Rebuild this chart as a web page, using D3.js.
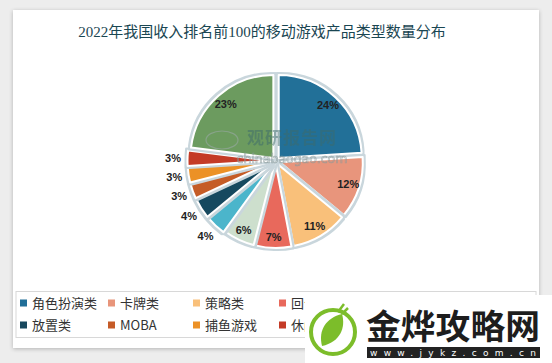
<!DOCTYPE html>
<html><head><meta charset="utf-8">
<script src="https://cdn.jsdelivr.net/npm/d3@7"></script>
<style>
html,body{margin:0;padding:0;background:#ededed;}
svg{display:block;}
</style></head>
<body>
<svg id="c" width="552" height="363"></svg>
<script>
const title = "2022年我国收入排名前100的移动游戏产品类型数量分布";
const categories = ["角色扮演类","卡牌类","策略类","回合制","模拟经营","动作类","放置类","MOBA","捕鱼游戏","休闲类","其他"];
const values = [24,12,11,7,6,4,4,3,3,3,23];
const colors = ["#216f98","#e8957b","#f9c07a","#e8695c","#cddfcd","#4cb5cb","#17485e","#c55b27","#ec9126","#c43b27","#6c9b5f"];
const insideLabel = [true,true,true,true,true,false,false,false,false,false,true];

const svg = d3.select("#c");
const defs = svg.append("defs");
const sh = defs.append("filter").attr("id","sh").attr("x","-5%").attr("y","-5%").attr("width","110%").attr("height","110%");
sh.append("feGaussianBlur").attr("in","SourceAlpha").attr("stdDeviation",2);
sh.append("feOffset").attr("dx",0).attr("dy",1).attr("result","b");
sh.append("feComponentTransfer").append("feFuncA").attr("type","linear").attr("slope",0.25);
const m = sh.append("feMerge"); m.append("feMergeNode"); m.append("feMergeNode").attr("in","SourceGraphic");

const ps = defs.append("filter").attr("id","ps").attr("x","-20%").attr("y","-20%").attr("width","140%").attr("height","140%");
ps.append("feMorphology").attr("in","SourceAlpha").attr("operator","dilate").attr("radius",1.5).attr("result","d");
ps.append("feFlood").attr("flood-color","#c9d6dc");
ps.append("feComposite").attr("in2","d").attr("operator","in");
const m2 = ps.append("feMerge"); m2.append("feMergeNode"); m2.append("feMergeNode").attr("in","SourceGraphic");

defs.append("clipPath").attr("id","lc").append("rect").attr("x",0).attr("y",280).attr("width",305).attr("height",70);

// card
svg.append("rect").attr("x",13).attr("y",10).attr("width",526).attr("height",338).attr("fill","#fff").attr("filter","url(#sh)");

svg.append("text").attr("x",262).attr("y",37).attr("text-anchor","middle")
  .attr("font-family","'Liberation Serif','Noto Sans CJK SC',serif").attr("font-size",15)
  .attr("fill","#1a4652").text(title);

const cx = 276, cy = 161, R = 83, off = 4;
const pie = d3.pie().sort(null).startAngle(0).endAngle(2*Math.PI)(values);
const arc = d3.arc().innerRadius(0).outerRadius(R);
const g = svg.append("g").attr("transform",`translate(${cx},${cy})`);
const mid = d => (d.startAngle + d.endAngle)/2;
g.selectAll("path").data(pie).join("path")
  .attr("d",arc)
  .attr("transform",(d,i)=>{const o = insideLabel[i]?off:off+1.5; return `translate(${o*Math.sin(mid(d))},${-o*Math.cos(mid(d))})`;})
  .attr("fill",(d,i)=>colors[i])
  .attr("stroke","#fff").attr("stroke-width",2).attr("stroke-linejoin","round")
  .attr("filter","url(#ps)");

g.selectAll("text.l").data(pie).join("text").attr("class","l")
  .attr("x",(d,i)=>(insideLabel[i]?76:103)*Math.sin(mid(d)))
  .attr("y",(d,i)=>-(insideLabel[i]?76:103)*Math.cos(mid(d)))
  .attr("dy","0.35em").attr("text-anchor","middle")
  .attr("font-family","'Liberation Sans',Arial,sans-serif").attr("font-size",11).attr("font-weight",600)
  .attr("fill","#222").text((d,i)=>values[i]+"%");

// center watermark
svg.append("text").attr("x",292).attr("y",144).attr("text-anchor","middle")
  .attr("font-family","'Noto Sans CJK SC',sans-serif").attr("font-size",17).attr("font-weight",700)
  .attr("fill","#3d6b6b").attr("opacity",0.5).attr("letter-spacing",1).text("观研报告网");
svg.append("text").attr("x",292).attr("y",163).attr("text-anchor","middle")
  .attr("font-family","'DejaVu Sans',sans-serif").attr("font-size",12.5)
  .attr("fill","none").attr("stroke","#8a9a9a").attr("stroke-width",0.7).attr("opacity",0.7).text("chinabaogao.com");
svg.append("ellipse").attr("cx",222).attr("cy",140).attr("rx",16).attr("ry",9)
  .attr("fill","none").attr("stroke","#9aa9a4").attr("stroke-width",1.2).attr("opacity",0.6);

// legend
svg.append("rect").attr("x",16).attr("y",291.5).attr("width",520).attr("height",46)
  .attr("fill","#fff").attr("stroke","#d8d8d8").attr("stroke-width",1);
const colX = [20,108,193,279,365,451];
const leg = svg.append("g").attr("clip-path","url(#lc)");
categories.forEach((c,i)=>{
  const row = i<6?0:1, col = i<6?i:i-6;
  if (col > 3) return; // covered by the overlay in the reference
  const x = colX[col], y = row===0?303:325;
  leg.append("rect").attr("x",x).attr("y",y-3.5).attr("width",7).attr("height",7).attr("fill",colors[i]);
  leg.append("text").attr("x",x+12).attr("y",y).attr("dy","0.36em")
    .attr("font-family","'Noto Sans CJK SC',sans-serif").attr("font-size",13).attr("fill","#333").text(c);
});

// site watermark
const w = svg.append("g");
w.append("rect").attr("x",305).attr("y",295).attr("width",247).attr("height",68).attr("fill","#fff");
w.append("circle").attr("cx",333).attr("cy",332).attr("r",22).attr("fill","none").attr("stroke","#7cbd2a").attr("stroke-width",4);
w.append("path").attr("d","M322,346 C318,330 326,318 342,314 C346,328 340,342 322,346 Z").attr("fill","#7cbd2a");
w.append("path").attr("d","M338,312 l6,-8 M342,314 l6,-6").attr("stroke","#7cbd2a").attr("stroke-width",2.5);
w.append("text").attr("x",453).attr("y",339).attr("text-anchor","middle")
  .attr("font-family","'Noto Sans CJK SC',sans-serif").attr("font-size",34).attr("font-weight",700)
  .attr("fill","#1d1d1d").attr("textLength",174).attr("lengthAdjust","spacingAndGlyphs").text("金烨攻略网");
w.append("rect").attr("x",367).attr("y",347).attr("width",173).attr("height",11).attr("fill","#222");
w.append("text").attr("x",453).attr("y",352.5).attr("dy","0.35em").attr("text-anchor","middle")
  .attr("font-family","'DejaVu Sans',sans-serif").attr("font-size",9)
  .attr("fill","#fff").attr("textLength",166).text("www.jykz.com.cn");
</script>
</body></html>
